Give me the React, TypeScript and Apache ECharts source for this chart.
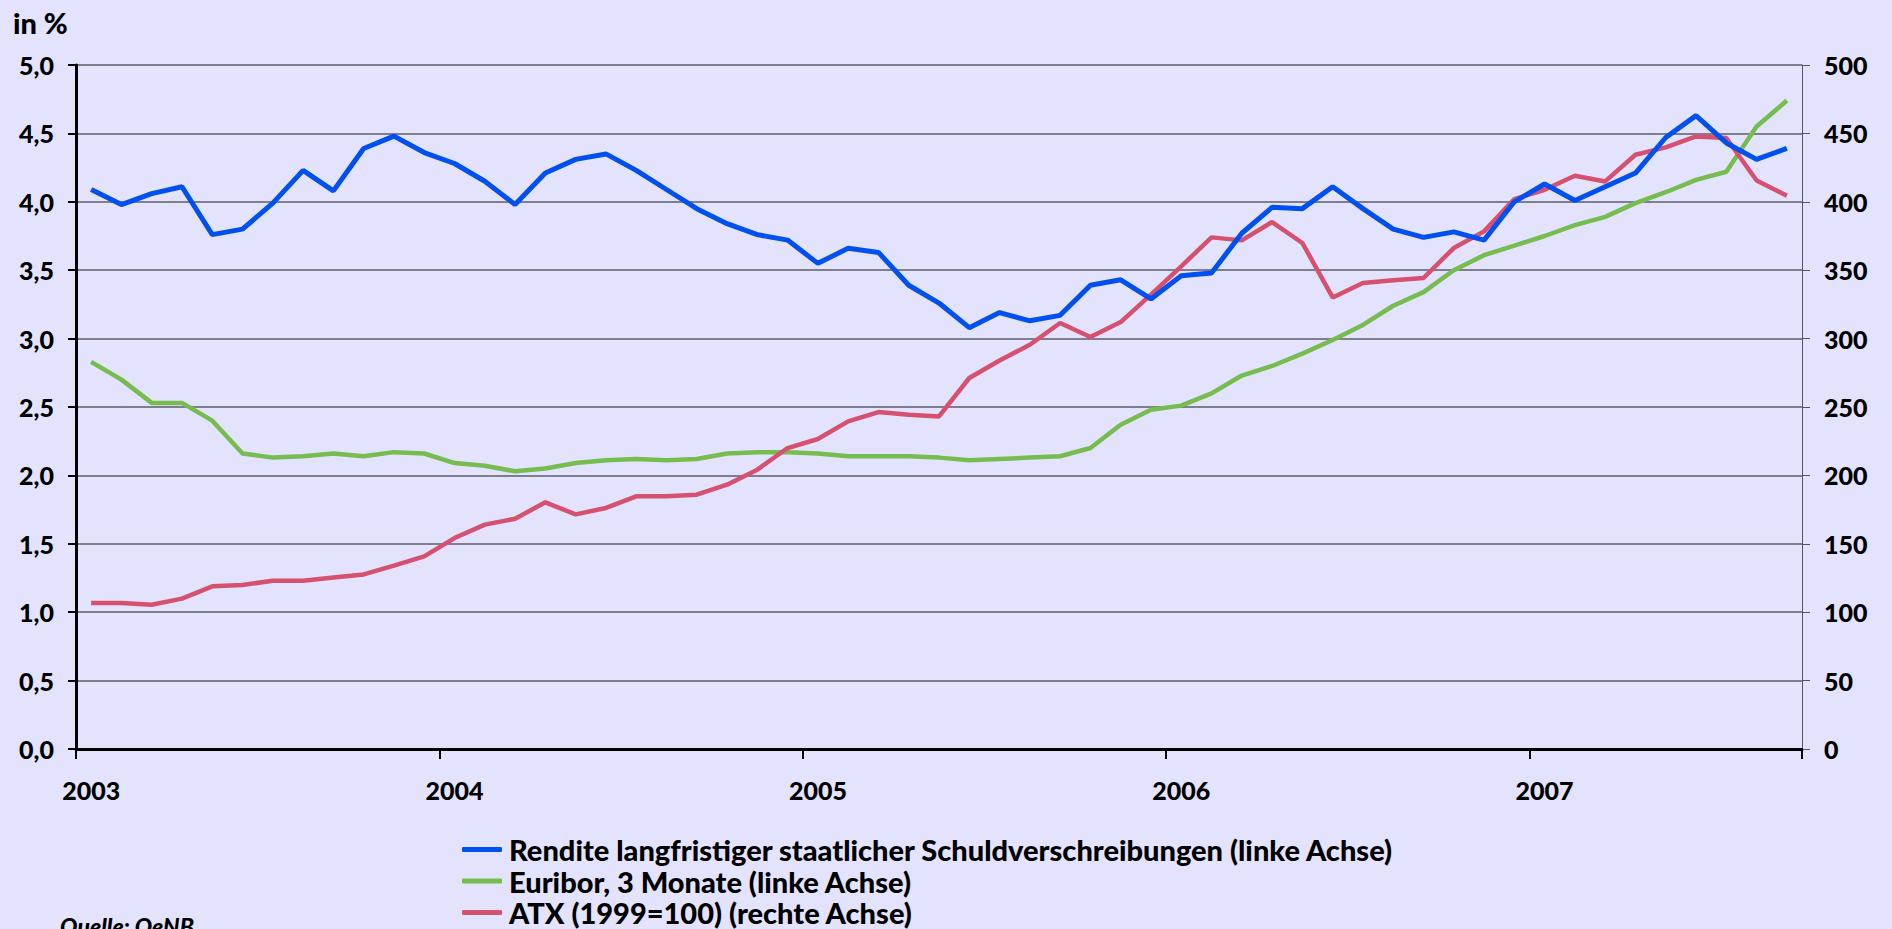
import React, { useEffect, useRef } from "react";
import * as echarts from "echarts";

const YEAR_LABELS = ["2003", "2004", "2005", "2006", "2007"];
const MONTHS = ["01", "02", "03", "04", "05", "06", "07", "08", "09", "10", "11", "12"];
const LAST_YEAR_MONTHS = 9;

const categories: string[] = [];
YEAR_LABELS.forEach((y, yi) => {
  const n = yi === YEAR_LABELS.length - 1 ? LAST_YEAR_MONTHS : 12;
  for (let m = 0; m < n; m++) categories.push(`${y}-${MONTHS[m]}`);
});

const rendite = [
  4.09, 3.98, 4.06, 4.11, 3.76, 3.8, 3.99, 4.23, 4.08, 4.39, 4.48, 4.36,
  4.28, 4.15, 3.98, 4.21, 4.31, 4.35, 4.23, 4.09, 3.95, 3.84, 3.76, 3.72,
  3.55, 3.66, 3.63, 3.39, 3.26, 3.08, 3.19, 3.13, 3.17, 3.39, 3.43, 3.29,
  3.46, 3.48, 3.77, 3.96, 3.95, 4.11, 3.95, 3.8, 3.74, 3.78, 3.72, 4.0,
  4.13, 4.01, 4.11, 4.21, 4.47, 4.63, 4.43, 4.31, 4.39,
];

const euribor = [
  2.83, 2.7, 2.53, 2.53, 2.4, 2.16, 2.13, 2.14, 2.16, 2.14, 2.17, 2.16,
  2.09, 2.07, 2.03, 2.05, 2.09, 2.11, 2.12, 2.11, 2.12, 2.16, 2.17, 2.17,
  2.16, 2.14, 2.14, 2.14, 2.13, 2.11, 2.12, 2.13, 2.14, 2.2, 2.37, 2.48,
  2.51, 2.6, 2.73, 2.8, 2.89, 2.99, 3.1, 3.24, 3.34, 3.5, 3.61, 3.68,
  3.75, 3.83, 3.89, 3.99, 4.07, 4.16, 4.22, 4.55, 4.74,
];

const atx = [
  106.7, 106.7, 105.5, 109.9, 118.9, 119.9, 123, 123, 125.4, 127.6, 134, 140.8,
  154.2, 164, 168.3, 180.3, 171.5, 176.2, 184.7, 184.7, 185.9, 193.2, 204.2, 220,
  226.6, 239.5, 246.3, 244.4, 243.1, 271.2, 284, 295.5, 311.4, 301.2, 312.1, 332.1,
  352.8, 374, 371.8, 385.2, 369.9, 330.1, 340.6, 342.6, 344.3, 366.2, 378.4, 402,
  408.8, 419, 414.9, 434.4, 439.8, 447.8, 446.6, 415.6, 404.5,
];

const SERIES_NAMES = [
  "Rendite langfristiger staatlicher Schuldverschreibungen (linke Achse)",
  "Euribor, 3 Monate (linke Achse)",
  "ATX (1999=100) (rechte Achse)",
];

const FONT = "Lato, 'Open Sans', sans-serif";
const LEGEND_TOPS = [835, 866.5, 898];

export default function App() {
  const ref = useRef<HTMLDivElement>(null);

  useEffect(() => {
    if (!ref.current) return;
    const chart = echarts.init(ref.current, null, { renderer: "svg" });
    const labelStyle = {
      color: "#000",
      fontFamily: FONT,
      fontWeight: 900,
      fontSize: 25,
    };
    chart.setOption({
      animation: false,
      backgroundColor: "#E3E3FE",
      grid: { left: 76, right: 90, top: 65, bottom: 180, containLabel: false },
      legend: SERIES_NAMES.map((name, i) => ({
        orient: "vertical",
        left: 462,
        top: LEGEND_TOPS[i],
        padding: 0,
        itemWidth: 40,
        itemHeight: 5,
        icon: "roundRect",
        selectedMode: false,
        textStyle: {
          color: "#000",
          fontFamily: FONT,
          fontWeight: 900,
          fontSize: 29,
          lineHeight: 29,
          padding: [0, 0, 0, 2],
        },
        data: [name],
      })),
      graphic: [
        {
          type: "text",
          left: 13,
          top: 8,
          style: {
            text: "in %",
            fill: "#000",
            font: `900 29px ${FONT}`,
          },
        },
        {
          type: "text",
          left: 60,
          top: 914,
          style: {
            text: "Quelle: OeNB",
            fill: "#000",
            font: `italic 900 23px ${FONT}`,
          },
        },
      ],
      xAxis: {
        type: "category",
        data: categories,
        boundaryGap: true,
        axisLine: { lineStyle: { color: "#000", width: 3 } },
        axisTick: {
          show: true,
          interval: 11,
          length: 10,
          lineStyle: { color: "#000", width: 2 },
        },
        axisLabel: {
          ...labelStyle,
          interval: 11,
          margin: 28,
          formatter: (v: string) => v.slice(0, 4),
        },
        splitLine: { show: false },
      },
      yAxis: [
        {
          type: "value",
          min: 0,
          max: 5,
          interval: 0.5,
          position: "left",
          axisLine: { show: true, lineStyle: { color: "#000", width: 3 } },
          axisTick: { show: true, length: 8, lineStyle: { color: "#000", width: 2 } },
          axisLabel: {
            ...labelStyle,
            margin: 22,
            formatter: (v: number) => v.toFixed(1).replace(".", ","),
          },
          splitLine: { show: true, lineStyle: { color: "#5C5C6A", width: 1.5 } },
        },
        {
          type: "value",
          min: 0,
          max: 500,
          interval: 50,
          position: "right",
          axisLine: { show: true, lineStyle: { color: "#555560", width: 1 } },
          axisTick: { show: true, length: 8, lineStyle: { color: "#555560", width: 1 } },
          axisLabel: { ...labelStyle, margin: 22 },
          splitLine: { show: false },
        },
      ],
      series: [
        {
          name: SERIES_NAMES[0],
          type: "line",
          yAxisIndex: 0,
          data: rendite,
          showSymbol: false,
          symbol: "none",
          lineStyle: { color: "#0050F0", width: 5 },
          itemStyle: { color: "#0050F0" },
          z: 4,
        },
        {
          name: SERIES_NAMES[1],
          type: "line",
          yAxisIndex: 0,
          data: euribor,
          showSymbol: false,
          symbol: "none",
          lineStyle: { color: "#76BC4E", width: 4.5 },
          itemStyle: { color: "#76BC4E" },
          z: 3,
        },
        {
          name: SERIES_NAMES[2],
          type: "line",
          yAxisIndex: 1,
          data: atx,
          showSymbol: false,
          symbol: "none",
          lineStyle: { color: "#D6506F", width: 4.5 },
          itemStyle: { color: "#D6506F" },
          z: 3,
        },
      ],
    });
    return () => chart.dispose();
  }, []);

  return (
    <div
      ref={ref}
      style={{ position: "fixed", left: 0, top: 0, width: 1892, height: 929 }}
    />
  );
}
